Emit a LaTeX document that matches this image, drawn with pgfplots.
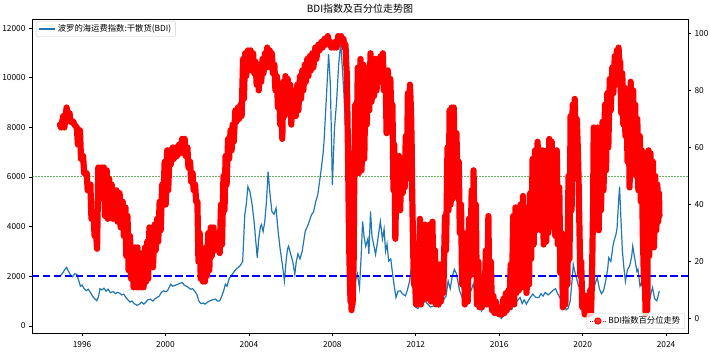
\documentclass[border=0pt]{standalone}
\usepackage{pgfplots}
\pgfplotsset{compat=1.18}
\usepackage{fontspec}
\setmainfont{Noto Sans CJK SC}
\definecolor{mplblue}{HTML}{1F77B4}
\definecolor{mplgreen}{HTML}{008000}
\begin{document}
\begin{tikzpicture}
\pgfplotsset{
 base/.style={width=656pt,height=314pt,scale only axis,
   xmin=1993.6,xmax=2025.05, enlargelimits=false,
   tick align=outside, major tick length=3pt,
   tick style={black,line width=0.6pt},
   axis line style={line width=0.6pt},
   tick label style={font=\fontsize{8.33}{10}\selectfont},
   /pgf/number format/assume math mode=true,
   /pgf/number format/1000 sep={},
   scaled ticks=false,
   legend cell align=left},
 lbox/.style={draw=black!20, rounded corners=2pt, fill=white, fill opacity=0.8,
   text opacity=1, font=\fontsize{8.33}{10}\selectfont, inner xsep=2.5pt, inner ysep=1.5pt}
}
\begin{axis}[base, name=ax,
  ymin=-285, ymax=12368,
  xtick={1996,2000,2004,2008,2012,2016,2020,2024},
  ytick={0,2000,4000,6000,8000,10000,12000},
  xtick pos=lower, ytick pos=lower,
  xticklabel style={yshift=-2pt},
  title={BDI指数及百分位走势图},
  title style={font=\fontsize{10}{12}\selectfont, at={(0.5,1)}, anchor=south, inner sep=0pt, yshift=-1pt},
  legend style={lbox, at={(0,1)}, anchor=north west, xshift=4pt, yshift=-2pt},
  legend image code/.code={\draw[#1] (0pt,0pt) -- (16pt,0pt);}
]
\addplot[mplblue, line width=1.2pt] coordinates {
(1994.94,2010) (1995.05,2100) (1995.15,2250) (1995.26,2360) (1995.35,2200) (1995.45,2050)
(1995.55,1980) (1995.65,2100) (1995.75,2080) (1995.85,1800) (1995.92,1600) (1996.0,1650)
(1996.1,1500) (1996.2,1420) (1996.3,1480) (1996.4,1350) (1996.5,1200) (1996.6,1100)
(1996.7,1020) (1996.78,1150) (1996.86,1500) (1996.95,1450) (1997.05,1520) (1997.15,1400)
(1997.25,1480) (1997.35,1350) (1997.5,1380) (1997.6,1300) (1997.7,1350) (1997.8,1320)
(1997.9,1250) (1998.0,1280) (1998.1,1150) (1998.2,1050) (1998.3,960) (1998.4,1000)
(1998.5,900) (1998.64,830) (1998.75,880) (1998.85,960) (1998.96,880) (1999.05,950)
(1999.15,1050) (1999.27,1080) (1999.4,1000) (1999.5,1100) (1999.6,1150) (1999.7,1200)
(1999.8,1350) (1999.9,1413) (2000.0,1380) (2000.1,1420) (2000.25,1680) (2000.35,1600)
(2000.5,1650) (2000.65,1700) (2000.8,1750) (2000.9,1650) (2001.0,1600) (2001.1,1550)
(2001.2,1480) (2001.3,1500) (2001.4,1400) (2001.5,1280) (2001.6,1000) (2001.7,900)
(2001.8,920) (2001.9,880) (2002.0,950) (2002.1,1000) (2002.25,1050) (2002.4,1080)
(2002.5,1000) (2002.6,1013) (2002.7,1200) (2002.8,1450) (2002.87,1680) (2002.95,1600)
(2003.05,1900) (2003.2,2080) (2003.3,2200) (2003.4,2300) (2003.5,2360) (2003.6,2450)
(2003.7,2600) (2003.75,3500) (2003.8,4480) (2003.87,4880) (2003.95,5613) (2004.05,5400)
(2004.15,4900) (2004.25,4200) (2004.32,3500) (2004.4,2747) (2004.47,3500) (2004.55,4000)
(2004.6,4080) (2004.68,3800) (2004.76,4213) (2004.84,5000) (2004.92,6213) (2005.0,5400)
(2005.1,4613) (2005.2,4500) (2005.3,4750) (2005.4,3800) (2005.5,3080) (2005.6,2500)
(2005.7,1813) (2005.78,2600) (2005.85,3100) (2005.9,3213) (2006.0,2900) (2006.1,2600)
(2006.2,2080) (2006.27,2600) (2006.35,2900) (2006.45,2700) (2006.55,3000) (2006.7,3813)
(2006.85,4100) (2007.0,4480) (2007.1,4600) (2007.2,5000) (2007.3,5280) (2007.45,6213)
(2007.55,6900) (2007.6,7413) (2007.7,9000) (2007.82,10947) (2007.9,9813) (2007.96,7500)
(2008.0,5680) (2008.05,6800) (2008.1,7947) (2008.2,9000) (2008.3,10500) (2008.4,11413)
(2008.47,10500) (2008.55,9413) (2008.62,8200) (2008.68,7013) (2008.75,5000) (2008.8,3080)
(2008.87,1500) (2008.93,760) (2009.0,900) (2009.1,1813) (2009.2,2100) (2009.3,1540)
(2009.38,2800) (2009.45,4213) (2009.52,3600) (2009.6,3213) (2009.7,3500) (2009.75,2900)
(2009.83,4613) (2009.9,3600) (2010.0,3200) (2010.07,2880) (2010.15,3300) (2010.3,4213)
(2010.4,3500) (2010.48,3900) (2010.55,3013) (2010.62,3300) (2010.7,2613) (2010.8,2700)
(2010.87,2213) (2010.95,1700) (2011.05,1147) (2011.15,1400) (2011.27,1413) (2011.35,1300)
(2011.5,1213) (2011.6,1450) (2011.7,1800) (2011.75,2147) (2011.82,1900) (2011.9,1500)
(2011.99,760) (2012.1,700) (2012.2,850) (2012.3,880) (2012.45,1000) (2012.55,900)
(2012.7,760) (2012.85,800) (2013.0,880) (2013.1,760) (2013.2,900) (2013.3,1013)
(2013.45,1200) (2013.55,1813) (2013.65,1500) (2013.75,2000) (2013.85,2280) (2013.95,2100)
(2014.1,1413) (2014.2,1200) (2014.3,1000) (2014.4,880) (2014.5,1000) (2014.6,1300)
(2014.75,1680) (2014.85,1300) (2014.95,1000) (2015.05,760) (2015.15,600) (2015.3,1013)
(2015.45,850) (2015.6,760) (2015.75,700) (2015.9,520) (2016.0,480) (2016.1,300)
(2016.2,400) (2016.35,613) (2016.5,700) (2016.6,650) (2016.7,880) (2016.85,1000)
(2017.0,1147) (2017.1,900) (2017.2,1050) (2017.3,880) (2017.45,1100) (2017.6,1280)
(2017.75,1150) (2017.9,1147) (2018.0,1300) (2018.1,1200) (2018.2,1350) (2018.35,1250)
(2018.55,1413) (2018.7,1500) (2018.8,1300) (2018.9,1147) (2019.0,1000) (2019.1,1080)
(2019.2,650) (2019.3,700) (2019.4,1000) (2019.5,1900) (2019.55,2480) (2019.62,2200)
(2019.7,1947) (2019.8,1600) (2019.9,1500) (2020.0,1680) (2020.1,600) (2020.2,550)
(2020.25,880) (2020.35,500) (2020.45,1000) (2020.5,1413) (2020.6,1700) (2020.7,1947)
(2020.8,1500) (2020.9,1300) (2021.0,1413) (2021.1,1800) (2021.2,2300) (2021.25,2747)
(2021.35,2600) (2021.45,3200) (2021.5,3413) (2021.6,3700) (2021.65,3947) (2021.72,5000)
(2021.77,5613) (2021.83,4400) (2021.9,3080) (2021.97,2400) (2022.05,1800) (2022.15,2280)
(2022.25,2400) (2022.35,2800) (2022.4,3213) (2022.5,2700) (2022.6,2200) (2022.65,2280)
(2022.75,1600) (2022.85,1800) (2022.9,1413) (2023.0,1100) (2023.05,1680) (2023.12,1300)
(2023.2,1013) (2023.3,1400) (2023.35,1547) (2023.45,1100) (2023.55,1013) (2023.62,1200)
(2023.67,1413)
};
\addlegendentry{波罗的海运费指数:干散货(BDI)}
\addplot[blue, line width=2pt, dash pattern=on 7.5pt off 3.5pt, forget plot] coordinates {(1993.6,2000) (2025.05,2000)};
\end{axis}
\begin{axis}[base,
  ymin=-5, ymax=105,
  axis y line*=right, axis x line=none,
  ytick={0,20,40,60,80,100},
  legend style={lbox, at={(1,0)}, anchor=south east, xshift=-3pt, yshift=4pt},
  legend image code/.code={\draw[#1, mark repeat=2, mark phase=2] plot coordinates {(0pt,0pt) (8pt,0pt) (16pt,0pt)};}
]
\addplot[mplgreen, opacity=0.6, line width=0.5pt, dash pattern=on 0.6pt off 0.9pt, forget plot] coordinates {(1993.6,50) (2025.05,50)};
\addplot[red, line width=6.2pt, line join=round, line cap=round, forget plot] coordinates {
(1994.94,68) (1994.99,67) (1995.10,71) (1995.15,67) (1995.26,74) (1995.31,71)
(1995.40,72) (1995.45,69) (1995.58,69) (1995.63,68) (1995.75,67) (1995.80,61)
(1995.90,66) (1995.95,56) (1996.05,57) (1996.10,51) (1996.22,51) (1996.27,45)
(1996.40,47) (1996.45,35) (1996.55,37) (1996.60,29) (1996.68,29) (1996.72,24.5)
(1996.78,53) (1996.83,46) (1996.92,53) (1996.97,42) (1997.05,53) (1997.10,36)
(1997.18,52) (1997.23,35) (1997.30,49) (1997.35,37) (1997.42,47) (1997.47,35)
(1997.55,45) (1997.60,35) (1997.65,45) (1997.70,34) (1997.80,44) (1997.85,32)
(1997.95,41) (1998.00,29) (1998.08,39) (1998.12,22) (1998.18,36) (1998.23,17)
(1998.30,29) (1998.35,14) (1998.42,25) (1998.47,11) (1998.55,25) (1998.60,11)
(1998.66,25) (1998.71,11) (1998.78,21) (1998.83,11) (1998.90,23) (1998.95,11)
(1999.02,25) (1999.07,13) (1999.12,27) (1999.17,14) (1999.23,32) (1999.28,24)
(1999.35,31) (1999.40,18) (1999.48,33) (1999.53,24) (1999.60,35) (1999.65,27)
(1999.72,41) (1999.77,31) (1999.84,47) (1999.89,40) (1999.96,55) (2000.01,40)
(2000.08,59) (2000.13,45) (2000.20,59) (2000.25,54) (2000.35,60) (2000.40,56)
(2000.50,60) (2000.55,57) (2000.65,61) (2000.70,58) (2000.80,63) (2000.85,59)
(2000.92,63) (2000.97,57) (2001.05,60) (2001.10,53) (2001.18,55) (2001.23,48)
(2001.30,51) (2001.35,45) (2001.42,47) (2001.47,41) (2001.53,41) (2001.58,20)
(2001.64,30) (2001.69,14) (2001.74,24) (2001.79,13) (2001.84,20) (2001.89,13)
(2001.94,25) (2001.99,15) (2002.05,30) (2002.10,17) (2002.17,32) (2002.22,22)
(2002.30,32) (2002.35,24) (2002.42,30) (2002.47,26) (2002.55,28) (2002.60,23)
(2002.66,40) (2002.71,26) (2002.78,50) (2002.83,38) (2002.88,57) (2002.93,47)
(2003.00,63) (2003.05,56) (2003.12,66) (2003.17,59) (2003.22,68) (2003.27,62)
(2003.35,73) (2003.40,69) (2003.48,74) (2003.53,70) (2003.60,75) (2003.65,71)
(2003.72,91) (2003.76,77) (2003.82,93) (2003.87,85) (2003.95,94) (2004.00,88)
(2004.08,94) (2004.13,87) (2004.20,93) (2004.25,86) (2004.32,90) (2004.37,82)
(2004.42,87) (2004.47,80) (2004.54,89) (2004.59,83) (2004.65,91) (2004.70,86)
(2004.77,93) (2004.82,88) (2004.88,95) (2004.93,90) (2005.00,94) (2005.05,88)
(2005.10,93) (2005.15,86) (2005.22,89) (2005.27,80) (2005.34,85) (2005.39,74)
(2005.45,81) (2005.50,68) (2005.55,77) (2005.60,63) (2005.65,83) (2005.70,71)
(2005.75,85) (2005.80,77) (2005.86,84) (2005.91,72) (2005.98,82) (2006.03,68)
(2006.10,80) (2006.15,72) (2006.20,79) (2006.25,71) (2006.32,82) (2006.37,73)
(2006.45,85) (2006.50,77) (2006.56,87) (2006.61,80) (2006.68,89) (2006.73,83)
(2006.80,91) (2006.85,85) (2006.92,92) (2006.97,87) (2007.04,93) (2007.09,88)
(2007.18,95) (2007.23,91) (2007.33,96) (2007.38,94) (2007.48,97) (2007.53,95)
(2007.62,98) (2007.67,96) (2007.78,99) (2007.83,97) (2007.90,97) (2007.95,95)
(2008.02,96) (2008.07,95) (2008.15,97) (2008.20,95) (2008.28,99) (2008.33,97)
(2008.42,99) (2008.47,97) (2008.53,98) (2008.58,95) (2008.63,96) (2008.66,90)
(2008.69,86) (2008.71,78) (2008.73,68) (2008.75,58) (2008.77,46) (2008.79,34)
(2008.81,24) (2008.84,14) (2008.87,6) (2008.90,12) (2008.92,3) (2008.95,8)
(2008.97,5) (2009.02,20) (2009.04,40) (2009.06,56) (2009.10,75) (2009.15,52)
(2009.22,88) (2009.27,51) (2009.35,91) (2009.40,52) (2009.48,89) (2009.53,56)
(2009.60,88) (2009.65,68) (2009.72,86) (2009.77,73) (2009.83,93) (2009.88,76)
(2009.95,91) (2010.00,78) (2010.07,91) (2010.12,80) (2010.20,91) (2010.25,83)
(2010.32,92) (2010.37,83) (2010.42,93) (2010.47,80) (2010.55,86) (2010.60,65)
(2010.66,87) (2010.71,74) (2010.78,84) (2010.83,70) (2010.88,75) (2010.93,45)
(2010.97,61) (2011.02,28) (2011.08,57) (2011.13,40) (2011.20,57) (2011.25,38)
(2011.32,55) (2011.37,44) (2011.42,52) (2011.47,46) (2011.52,64) (2011.57,49)
(2011.62,79) (2011.67,72) (2011.72,82) (2011.77,73) (2011.80,62) (2011.82,48)
(2011.85,34) (2011.88,22) (2011.91,12) (2011.96,14) (2012.01,5) (2012.08,19)
(2012.13,5) (2012.20,35) (2012.25,5) (2012.32,31) (2012.37,7) (2012.44,33)
(2012.49,7) (2012.56,30) (2012.61,7) (2012.68,33) (2012.73,6) (2012.80,34)
(2012.85,6) (2012.92,24) (2012.97,5) (2013.04,17) (2013.09,5) (2013.15,19)
(2013.20,6) (2013.27,16) (2013.32,9) (2013.40,36) (2013.45,24) (2013.52,60)
(2013.57,38) (2013.62,73) (2013.67,40) (2013.72,74) (2013.77,42) (2013.82,74)
(2013.87,50) (2013.95,65) (2014.00,46) (2014.06,55) (2014.11,30) (2014.17,40)
(2014.22,12) (2014.30,30) (2014.35,5) (2014.44,27) (2014.49,6) (2014.55,35)
(2014.60,15) (2014.68,45) (2014.73,28) (2014.77,52) (2014.82,22) (2014.88,40)
(2014.93,5) (2015.00,20) (2015.05,4) (2015.12,14) (2015.17,4) (2015.24,12)
(2015.29,5) (2015.36,24) (2015.41,5) (2015.48,36) (2015.53,5) (2015.60,20)
(2015.65,3) (2015.72,8) (2015.77,2) (2015.84,6) (2015.89,2) (2015.96,4)
(2016.01,1.5) (2016.08,4) (2016.13,1.5) (2016.20,7) (2016.25,2) (2016.32,9)
(2016.37,3) (2016.44,10) (2016.49,4) (2016.55,19) (2016.60,5) (2016.67,36)
(2016.72,5) (2016.78,39) (2016.83,9) (2016.90,38) (2016.95,10) (2017.02,40)
(2017.07,13) (2017.14,43) (2017.19,11) (2017.26,39) (2017.31,9) (2017.38,28)
(2017.43,12) (2017.48,44) (2017.53,21) (2017.60,56) (2017.65,26) (2017.72,59)
(2017.77,31) (2017.84,62) (2017.89,33) (2017.96,59) (2018.01,31) (2018.08,59)
(2018.13,26) (2018.20,52) (2018.25,27) (2018.30,59) (2018.35,30) (2018.40,63)
(2018.45,32) (2018.52,62) (2018.57,36) (2018.64,58) (2018.69,29) (2018.76,59)
(2018.81,26) (2018.88,46) (2018.93,16) (2019.00,30) (2019.05,4) (2019.12,24)
(2019.17,5) (2019.22,26) (2019.27,12) (2019.32,50) (2019.37,21) (2019.42,71)
(2019.47,38) (2019.52,75) (2019.57,51) (2019.62,77) (2019.67,59) (2019.72,70)
(2019.77,59) (2019.80,50) (2019.83,38) (2019.86,26) (2019.89,15) (2019.93,20)
(2019.98,4) (2020.05,6) (2020.10,1.5) (2020.15,8) (2020.20,1.5) (2020.26,6)
(2020.31,1.5) (2020.36,10) (2020.40,2) (2020.44,12) (2020.47,25) (2020.50,40)
(2020.53,67) (2020.58,42) (2020.62,66) (2020.67,38) (2020.72,67) (2020.77,31)
(2020.83,66) (2020.88,38) (2020.95,69) (2021.00,45) (2021.07,75) (2021.12,52)
(2021.18,79) (2021.23,60) (2021.30,84) (2021.35,73) (2021.42,88) (2021.47,79)
(2021.54,92) (2021.59,82) (2021.64,94) (2021.69,85) (2021.72,95) (2021.76,90)
(2021.80,90) (2021.85,72) (2021.90,86) (2021.95,68) (2022.00,81) (2022.05,64)
(2022.10,79) (2022.15,55) (2022.20,77) (2022.25,46) (2022.30,83) (2022.35,69)
(2022.42,80) (2022.47,58) (2022.52,75) (2022.57,50) (2022.62,70) (2022.67,45)
(2022.74,64) (2022.79,41) (2022.84,59) (2022.88,30) (2022.91,22) (2022.94,12)
(2022.98,14) (2023.02,1.5) (2023.06,16) (2023.10,3) (2023.13,40) (2023.16,59)
(2023.19,22) (2023.25,58) (2023.30,25) (2023.37,55) (2023.42,25) (2023.48,50)
(2023.53,31) (2023.58,47) (2023.62,34) (2023.66,44) (2023.68,36)
};
\addlegendimage{red, line width=1pt, dash pattern=on 1pt off 1.6pt, mark=*, mark size=3.1pt, mark options={solid}}
\addlegendentry{BDI指数百分位走势}
\end{axis}
\pgfresetboundingbox
\path[use as bounding box] ([shift={(-32pt,-22pt)}]ax.south west) rectangle ([shift={(678pt,333pt)}]ax.south west);
\end{tikzpicture}
\end{document}
